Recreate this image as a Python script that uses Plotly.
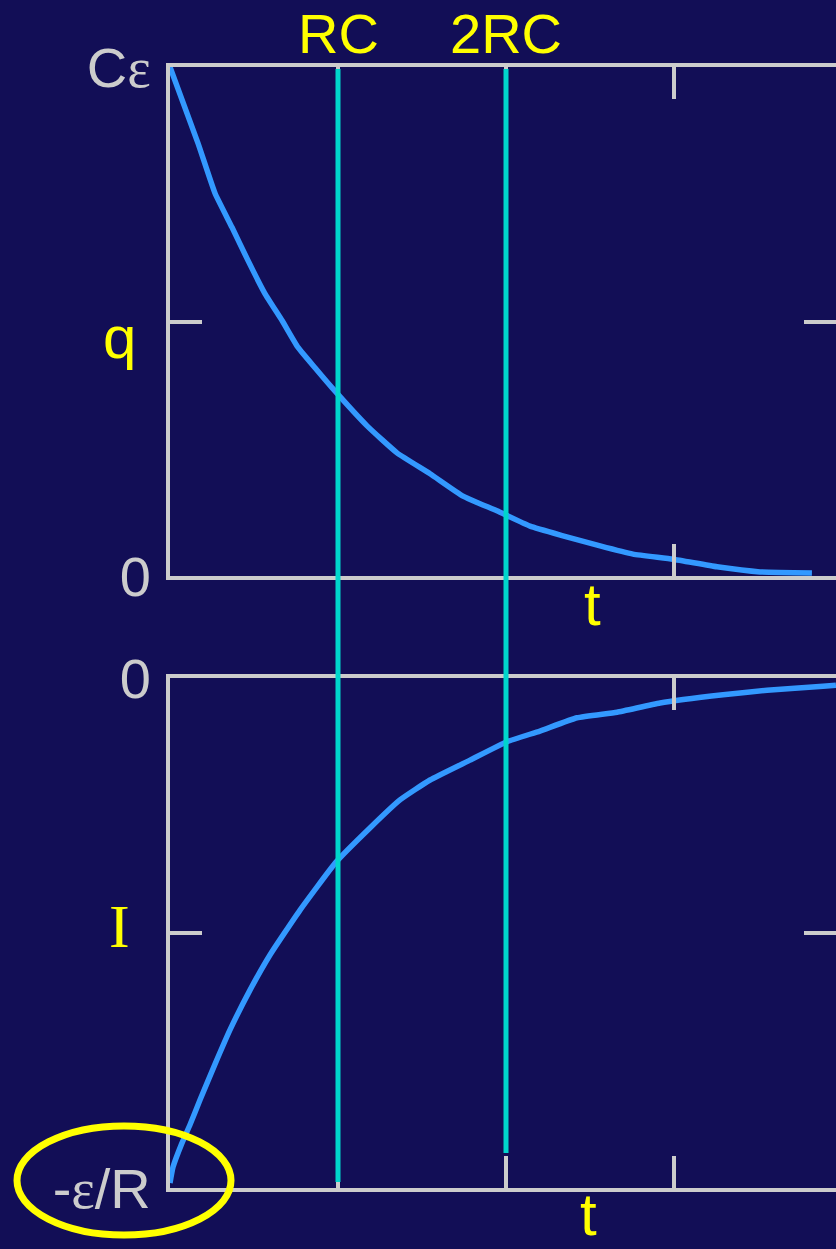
import plotly.graph_objects as go

# Charge on the capacitor while discharging (top panel), in units of C*emf
t_charge = [0.0, 0.167, 0.268, 0.369, 0.464, 0.565, 0.667, 0.762, 0.863, 0.964,
            1.173, 1.351, 1.548, 1.744, 1.946, 2.143, 2.339, 2.560, 2.756,
            2.994, 3.256, 3.512, 3.821]
q_charge = [1.0, 0.850, 0.752, 0.685, 0.620, 0.555, 0.502, 0.449, 0.409, 0.370,
            0.295, 0.242, 0.201, 0.157, 0.128, 0.098, 0.079, 0.059, 0.043,
            0.033, 0.018, 0.008, 0.006]

# Current through the resistor (bottom panel), in units of emf/R
t_current = [0.0, 0.018, 0.071, 0.119, 0.179, 0.268, 0.357, 0.476, 0.595, 0.774,
             0.988, 1.190, 1.369, 1.548, 1.786, 2.006, 2.202, 2.423, 2.661,
             2.917, 3.292, 3.554, 3.887, 3.964]
i_current = [-0.990, -0.959, -0.912, -0.876, -0.827, -0.757, -0.690, -0.612,
             -0.543, -0.455, -0.361, -0.294, -0.239, -0.200, -0.161, -0.125,
             -0.104, -0.078, -0.067, -0.049, -0.033, -0.024, -0.016, -0.014]

# Time-constant markers
rc_marks = [1, 2]
rc_labels = ["RC", "2RC"]

x_ticks = [1, 2, 3]
q_ticks = [0, 0.5, 1]
q_ticktext = ["0", "", "C<span style='font-family:Liberation Serif'>ε</span>"]
i_ticks = [-1, -0.5, 0]
i_ticktext = ["-<span style='font-family:Liberation Serif'>ε</span>/R", "", "0"]

W, H = 836, 1249
BG = "#120e56"
AXIS = "#cccccc"
CURVE = "#3399ff"
MARK = "#00d6cc"
YELLOW = "#ffff00"
SANS = "Liberation Sans, Arial, sans-serif"


def py(px):
    """Convert a pixel row (from the top) to a paper fraction."""
    return 1 - px / H


x_dom = [170 / W, 1.0]
x_rng = [0, (W - 170) / 168]

fig = go.Figure()
fig.add_trace(go.Scatter(x=t_charge, y=q_charge, mode="lines",
                         line=dict(color=CURVE, width=5.5, shape="spline", smoothing=0.4),
                         xaxis="x", yaxis="y", hoverinfo="skip"))
fig.add_trace(go.Scatter(x=t_current, y=i_current, mode="lines",
                         line=dict(color=CURVE, width=5.5, shape="spline", smoothing=0.4),
                         xaxis="x2", yaxis="y2", hoverinfo="skip"))
# empty traces so the right-hand tick axes get their own subplots
fig.add_trace(go.Scatter(x=[], y=[], xaxis="x", yaxis="y3", hoverinfo="skip"))
fig.add_trace(go.Scatter(x=[], y=[], xaxis="x2", yaxis="y4", hoverinfo="skip"))

xcommon = dict(domain=x_dom, range=x_rng, showline=True, linecolor=AXIS, linewidth=4,
               mirror="ticks", ticks="inside", ticklen=32, tickwidth=4, tickcolor=AXIS,
               tickvals=x_ticks, showticklabels=False, showgrid=False, zeroline=False,
               fixedrange=True)
ycommon = dict(showline=True, linecolor=AXIS, linewidth=4, mirror=False,
               ticks="inside", ticklen=32, tickwidth=4, tickcolor=AXIS,
               showgrid=False, zeroline=False, fixedrange=True,
               tickfont=dict(family=SANS, size=56, color=AXIS),
               ticklabelstandoff=4)
yright = dict(side="right", showline=False, ticks="inside", ticklen=32, tickwidth=4,
              tickcolor=AXIS, showticklabels=False, showgrid=False, zeroline=False,
              fixedrange=True)

fig.update_layout(
    width=W, height=H, autosize=False,
    margin=dict(l=0, r=0, t=0, b=0, pad=0, autoexpand=False),
    paper_bgcolor=BG, plot_bgcolor=BG,
    showlegend=False,
    xaxis=dict(anchor="y", **xcommon),
    yaxis=dict(anchor="x", domain=[py(576), py(67)], range=[0, 1],
               tickvals=q_ticks, ticktext=q_ticktext, **ycommon),
    yaxis3=dict(overlaying="y", anchor="x", range=[0, 1], tickvals=[0.5], **yright),
    xaxis2=dict(anchor="y2", **xcommon),
    yaxis2=dict(anchor="x2", domain=[py(1188), py(678)], range=[-1, 0],
                tickvals=i_ticks, ticktext=i_ticktext, **ycommon),
    yaxis4=dict(overlaying="y2", anchor="x2", range=[-1, 0], tickvals=[-0.5], **yright),
)

# Vertical markers at one and two time constants, spanning both panels
ends = [py(1182), py(1153)]
for mark, y_end in zip(rc_marks, ends):
    fig.add_shape(type="line", xref="x", yref="paper", x0=mark, x1=mark,
                  y0=y_end, y1=py(69), line=dict(color=MARK, width=5), layer="above")

for mark, label in zip(rc_marks, rc_labels):
    fig.add_annotation(x=mark, xref="x", y=py(33), yref="paper", text=label,
                       showarrow=False, xanchor="center", yanchor="middle",
                       font=dict(family=SANS, size=56, color=YELLOW))

# Axis names
fig.add_annotation(x=119 / W, y=py(338), xref="paper", yref="paper", text="q",
                   showarrow=False, xanchor="center", yanchor="middle",
                   font=dict(family=SANS, size=60, color=YELLOW))
fig.add_annotation(x=119 / W, y=py(926), xref="paper", yref="paper", text="I",
                   showarrow=False, xanchor="center", yanchor="middle",
                   font=dict(family="Liberation Serif, Times New Roman, serif", size=62,
                             color=YELLOW))
fig.add_annotation(x=592 / W, y=py(604), xref="paper", yref="paper", text="t",
                   showarrow=False, xanchor="center", yanchor="middle",
                   font=dict(family=SANS, size=60, color=YELLOW))
fig.add_annotation(x=588 / W, y=py(1214), xref="paper", yref="paper", text="t",
                   showarrow=False, xanchor="center", yanchor="middle",
                   font=dict(family=SANS, size=60, color=YELLOW))

# Highlight ring around the initial current
fig.add_shape(type="circle", xref="paper", yref="paper",
              x0=17 / W, x1=231 / W, y0=py(1235), y1=py(1126),
              line=dict(color=YELLOW, width=7), layer="above")

fig.write_html("out.html")
